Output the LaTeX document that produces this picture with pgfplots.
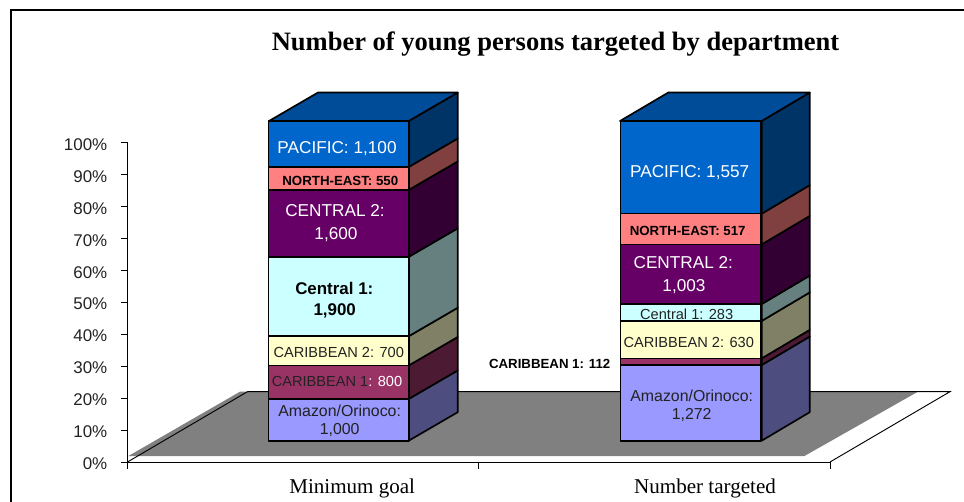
\documentclass[border=0pt]{standalone}
\usepackage{fontspec}
\setmainfont{Liberation Sans}
\newfontfamily\timesf{Liberation Serif}
\usepackage{pgfplots}
\pgfplotsset{compat=1.18}
\definecolor{amaz}{HTML}{9999FF}\definecolor{amazS}{HTML}{4D4D80}
\definecolor{carA}{HTML}{993366}\definecolor{carAS}{HTML}{4D1A33}
\definecolor{carB}{HTML}{FFFFCC}\definecolor{carBS}{HTML}{808066}
\definecolor{cenA}{HTML}{CCFFFF}\definecolor{cenAS}{HTML}{668080}
\definecolor{cenB}{HTML}{660066}\definecolor{cenBS}{HTML}{330033}
\definecolor{noea}{HTML}{FF8080}\definecolor{noeaS}{HTML}{804040}
\definecolor{paci}{HTML}{0066CC}\definecolor{paciS}{HTML}{003366}\definecolor{paciT}{HTML}{004C99}
\definecolor{labgrey}{HTML}{222222}
\pgfplotsset{geom/.style={
  scale only axis, width=526.875pt, height=239.775pt,
  at={(95.625pt,-346.5pt)}, anchor=south west,
  xmin=127.5, xmax=830, ymin=0, ymax=100, clip=false},
  face/.style={draw=black,line width=1.25pt,line join=round}}
\newcommand{\fs}[1]{\fontsize{#1}{#1}\selectfont}
\begin{document}
\begin{tikzpicture}
\path[use as bounding box] (0,0) rectangle (723pt,-376.5pt);
% frame
\draw[black,line width=1.2pt] (8.25pt,-376.5pt) -- (8.25pt,-7.5pt) -- (723pt,-7.5pt);
\begin{axis}[geom,
  axis x line=bottom, axis y line=left,
  axis line style={-,black,line width=0.6pt},
  tick style={black,line width=0.6pt},
  major tick length=5.25pt,
  tick align=outside,
  ytick={0,10,...,100},
  yticklabel={\pgfmathprintnumber{\tick}\%},
  /pgf/number format/assume math mode=true,
  yticklabel style={font=\fs{12.7pt},inner sep=0pt,xshift=-9.75pt,yshift=-1.5pt,text=labgrey},
  xtick={127.5,478.7,830}, xticklabels={},
  extra x ticks={352.2,705},
  extra x tick labels={Minimum goal,Number targeted},
  extra x tick style={major tick length=0pt,
     xticklabel style={font=\timesf\fs{15.8pt},inner sep=0pt,yshift=-23.5pt,anchor=base,text=black}},
]
% floor
\addplot[fill=black!50,draw=none] coordinates {(128,1.8)(804,1.8)(918,22)(240,22)} --cycle;
\addplot[black,line width=0.7pt] coordinates {(127.5,0)(247.5,22)(950,22)(830,0)};
% left column: side faces and top
\addplot[face,fill=amazS]  coordinates {(408.7,6.66)(457.7,15.57)(457.7,28.64)(408.7,19.73)} --cycle;
\addplot[face,fill=carAS]  coordinates {(408.7,19.73)(457.7,28.64)(457.7,39.10)(408.7,30.19)} --cycle;
\addplot[face,fill=carBS]  coordinates {(408.7,30.19)(457.7,39.10)(457.7,48.25)(408.7,39.34)} --cycle;
\addplot[face,fill=cenAS]  coordinates {(408.7,39.34)(457.7,48.25)(457.7,73.09)(408.7,64.18)} --cycle;
\addplot[face,fill=cenBS]  coordinates {(408.7,64.18)(457.7,73.09)(457.7,94.01)(408.7,85.10)} --cycle;
\addplot[face,fill=noeaS]  coordinates {(408.7,85.10)(457.7,94.01)(457.7,101.20)(408.7,92.29)} --cycle;
\addplot[face,fill=paciS]  coordinates {(408.7,92.29)(457.7,101.20)(457.7,115.57)(408.7,106.66)} --cycle;
\addplot[face,fill=paciT]  coordinates {(269,106.66)(408.7,106.66)(457.7,115.57)(318,115.57)} --cycle;
% right column: side faces and top
\addplot[face,fill=amazS]  coordinates {(761.7,6.66)(809.7,15.57)(809.7,39.24)(761.7,30.33)} --cycle;
\addplot[face,fill=carAS]  coordinates {(761.7,30.33)(809.7,39.24)(809.7,41.32)(761.7,32.41)} --cycle;
\addplot[face,fill=carBS]  coordinates {(761.7,32.41)(809.7,41.32)(809.7,53.04)(761.7,44.13)} --cycle;
\addplot[face,fill=cenAS]  coordinates {(761.7,44.13)(809.7,53.04)(809.7,58.31)(761.7,49.40)} --cycle;
\addplot[face,fill=cenBS]  coordinates {(761.7,49.40)(809.7,58.31)(809.7,76.97)(761.7,68.06)} --cycle;
\addplot[face,fill=noeaS]  coordinates {(761.7,68.06)(809.7,76.97)(809.7,86.59)(761.7,77.68)} --cycle;
\addplot[face,fill=paciS]  coordinates {(761.7,77.68)(809.7,86.59)(809.7,115.57)(761.7,106.66)} --cycle;
\addplot[face,fill=paciT]  coordinates {(620,106.66)(761.7,106.66)(809.7,115.57)(668.3,115.57)} --cycle;
\end{axis}
\begin{axis}[geom, hide axis, ybar stacked, bar width=105.4pt, bar shift=0pt]
% invisible floor offset of the 3-D projection, then the shares in percent
\addplot[draw=none,fill=none] coordinates {(338.85,6.66)(690.85,6.66)};
\addplot[face,fill=amaz] coordinates {(338.85,13.07)(690.85,23.67)};
\addplot[face,fill=carA] coordinates {(338.85,10.46)(690.85,2.08)};
\addplot[face,fill=carB] coordinates {(338.85,9.15)(690.85,11.72)};
\addplot[face,fill=cenA] coordinates {(338.85,24.84)(690.85,5.27)};
\addplot[face,fill=cenB] coordinates {(338.85,20.92)(690.85,18.66)};
\addplot[face,fill=noea] coordinates {(338.85,7.19)(690.85,9.62)};
\addplot[face,fill=paci] coordinates {(338.85,14.38)(690.85,28.97)};
\end{axis}
\begin{scope}[x=0.75pt,y=-0.75pt,yshift=-1.5pt,every node/.style={inner sep=0pt,anchor=center}]
\node[font=\timesf\bfseries\fs{19.9pt}] at (555.5,42) {Number of young persons targeted by department};
% left column
\node[font=\fs{12.9pt},white] at (337,146.7) {PACIFIC: 1,100};
\node[font=\bfseries\fs{9.96pt},black] at (340.3,178.5) {NORTH-EAST: 550};
\node[font=\fs{12.9pt},white] at (335,208.3) {CENTRAL 2:};
\node[font=\fs{12.9pt},white] at (336,232.3) {1,600};
\node[font=\bfseries\fs{12.7pt},black] at (334.3,286) {Central 1:};
\node[font=\bfseries\fs{12.7pt},black] at (334.7,309.3) {1,900};
\node[font=\fs{10.95pt},labgrey] at (338.7,350) {CARIBBEAN 2: 700};
\node[font=\fs{10.95pt},labgrey] at (337,379) {CARIBBEAN 1\textcolor{white}{: 800}};
\node[font=\fs{11.9pt},labgrey] at (339.7,408.7) {Amazon/Orinoco:};
\node[font=\fs{11.9pt},labgrey] at (339.7,427.7) {1,000};
% right column
\node[font=\fs{12.9pt},white] at (689.7,170.7) {PACIFIC: 1,557};
\node[font=\bfseries\fs{9.96pt},black] at (687.7,228.5) {NORTH-EAST: 517};
\node[font=\fs{12.9pt},white] at (683.3,261) {CENTRAL 2:};
\node[font=\fs{12.9pt},white] at (684,285) {1,003};
\node[font=\fs{10.95pt},labgrey] at (686.7,312) {Central 1: 283};
\node[font=\fs{10.95pt},labgrey] at (688.7,340.7) {CARIBBEAN 2: 630};
\node[font=\bfseries\fs{9.94pt},black] at (549.7,361.5) {CARIBBEAN 1: 112};
\node[font=\fs{11.9pt},labgrey] at (691.7,393.7) {Amazon/Orinoco:};
\node[font=\fs{11.9pt},labgrey] at (691.7,412.7) {1,272};
\end{scope}
\end{tikzpicture}
\end{document}
